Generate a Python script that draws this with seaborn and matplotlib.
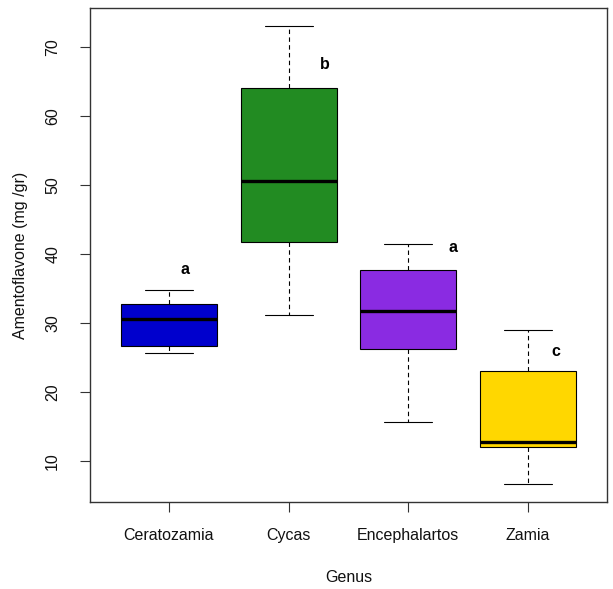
import matplotlib
matplotlib.use("Agg")
import matplotlib.pyplot as plt
import seaborn as sns
import pandas as pd

genera = ["Ceratozamia", "Cycas", "Encephalartos", "Zamia"]
mins = [25.6, 31.2, 15.6, 6.7]
q1s = [26.6, 41.8, 26.2, 12.0]
medians = [30.6, 50.6, 31.7, 12.8]
q3s = [32.7, 64.0, 37.7, 23.1]
maxs = [34.8, 73.0, 41.4, 29.0]
colors = ["#0000CD", "#228B22", "#8A2BE2", "#FFD700"]
letters = ["a", "b", "a", "c"]
letter_x = [0.13, 1.30, 2.37, 3.23]
letter_y = [37.7, 67.4, 40.9, 25.8]

rows = []
for g, a, b, c, d, e in zip(genera, mins, q1s, medians, q3s, maxs):
    for v in (a, b, c, d, e):
        rows.append({"Genus": g, "value": v})
df = pd.DataFrame(rows)

sns.set_style("white")
plt.rcParams["font.family"] = ["Liberation Sans", "DejaVu Sans"]

fig = plt.figure(figsize=(6.13, 5.89), dpi=100)
ax = fig.add_axes([90 / 613, 1 - 502 / 589, 517 / 613, 494 / 589])

sns.boxplot(data=df, x="Genus", y="value", hue="Genus", palette=colors,
            order=genera, hue_order=genera, legend=False, width=0.8,
            showfliers=False, linecolor="black", linewidth=0.8,
            whiskerprops=dict(linestyle=(0, (4, 3)), linewidth=0.8),
            capprops=dict(linewidth=0.8),
            medianprops=dict(linewidth=2.4, color="black"),
            boxprops=dict(linewidth=0.8), ax=ax, saturation=1)

for t, x, y in zip(letters, letter_x, letter_y):
    ax.text(x, y, t, fontsize=11.5, fontweight="bold", ha="center", va="center",
            color="black")

ax.set_xlim(-0.66, 3.66)
ax.set_ylim(4.05, 75.65)
ax.set_yticks([10, 20, 30, 40, 50, 60, 70])
ax.set_yticklabels(["10", "20", "30", "40", "50", "60", "70"], rotation=90, va="center")
for s in ax.spines.values():
    s.set_visible(True)
    s.set_color("#333333")
    s.set_linewidth(1.0)
ax.tick_params(axis="both", direction="out", length=7.5, width=0.8, color="#333333",
               labelsize=11.5, labelcolor="#111111", bottom=True, left=True)
ax.tick_params(axis="y", pad=14)
ax.tick_params(axis="x", pad=11)
ax.set_xlabel("Genus", fontsize=11.5, color="#111111", labelpad=20)
ax.set_ylabel("Amentoflavone (mg /gr)", fontsize=11.5, color="#111111", labelpad=12)

fig.savefig("out.png", dpi=100)
